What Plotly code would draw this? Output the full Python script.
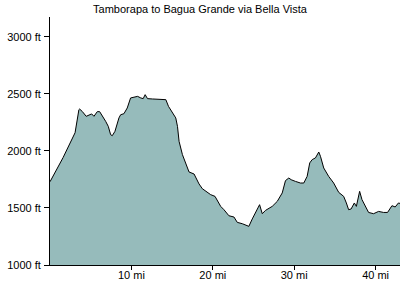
import plotly.graph_objects as go

miles = [0.0, 1.6, 3.08, 3.23, 3.55, 3.64, 3.96, 4.45, 4.79, 5.12, 5.40, 5.81, 6.10, 6.42, 6.84,
         7.16, 7.45, 7.65, 7.98, 8.47, 8.68, 9.08, 9.49, 9.90, 10.31, 10.76, 11.16, 11.45, 11.69,
         11.98, 12.60, 13.21, 13.82, 14.23, 14.56, 15.05, 15.45, 15.66, 15.86, 16.27, 16.68,
         17.08, 17.70, 18.11, 18.31, 18.72, 19.13, 19.74, 20.27, 20.97, 21.37, 21.98, 22.60,
         23.01, 23.63, 24.43, 24.85, 25.26, 25.75, 26.08, 26.48, 27.30, 27.92, 28.53, 28.93,
         29.34, 29.63, 30.16, 30.77, 31.18, 31.59, 31.91, 32.21, 32.61, 33.02, 33.23, 33.63,
         34.24, 34.85, 35.47, 36.08, 36.41, 36.69, 36.99, 37.39, 37.64, 38.04, 38.33, 38.74,
         39.14, 39.75, 40.37, 40.98, 41.47, 42.01, 42.41, 42.81, 43.0]
elevation_ft = [1730, 1941, 2160, 2230, 2362, 2368, 2347, 2304, 2318, 2325, 2304, 2345, 2345, 2310, 2260,
                2216, 2143, 2134, 2172, 2290, 2318, 2327, 2377, 2465, 2474, 2479, 2465, 2459, 2494,
                2459, 2456, 2456, 2456, 2450, 2391, 2333, 2290, 2216, 2084, 1968, 1895,
                1816, 1798, 1734, 1711, 1669, 1646, 1617, 1602, 1514, 1485, 1432, 1421,
                1374, 1362, 1339, 1404, 1456, 1529, 1450, 1479, 1514, 1558, 1632, 1740,
                1763, 1748, 1733, 1719, 1719, 1777, 1895, 1924, 1939, 1991, 1953, 1851,
                1777, 1719, 1637, 1602, 1544, 1485, 1491, 1544, 1514, 1646, 1573, 1514,
                1461, 1450, 1470, 1461, 1461, 1520, 1509, 1544, 1540]

x_tickvals = [10, 20, 30, 40]
x_ticktext = ["10 mi", "20 mi", "30 mi", "40 mi"]
y_tickvals = [1000, 1500, 2000, 2500, 3000]
y_ticktext = ["1000 ft", "1500 ft", "2000 ft", "2500 ft", "3000 ft"]
title = "Tamborapa to Bagua Grande via Bella Vista"

fig = go.Figure()
fig.add_trace(go.Scatter(
    x=miles, y=elevation_ft, mode="lines",
    line=dict(color="black", width=1),
    fill="tozeroy", fillcolor="rgb(150,187,187)",
    hoverinfo="skip", showlegend=False,
))

font = dict(family="Liberation Sans, Arial, sans-serif", size=11, color="black")
fig.update_layout(
    width=400, height=300,
    margin=dict(l=50, r=0, t=17, b=35),
    paper_bgcolor="white", plot_bgcolor="white",
    font=font,
    title=dict(text=title, x=0.5, xanchor="center", y=1 - 9 / 300, yanchor="middle",
               font=dict(family="Liberation Sans, Arial, sans-serif", size=11, color="black")),
    xaxis=dict(range=[0, 43], tickvals=x_tickvals, ticktext=x_ticktext,
               showline=True, linecolor="black", linewidth=1, ticks="outside",
               ticklen=4, tickcolor="black", showgrid=False, zeroline=False,
               ticklabelstandoff=-4, fixedrange=True),
    yaxis=dict(range=[1000, 3175], tickvals=y_tickvals, ticktext=y_ticktext,
               showline=True, linecolor="black", linewidth=1, ticks="outside",
               ticklen=5, tickcolor="black", showgrid=False, zeroline=False,
               ticklabelstandoff=1, fixedrange=True),
)

fig.write_html("out.html")
